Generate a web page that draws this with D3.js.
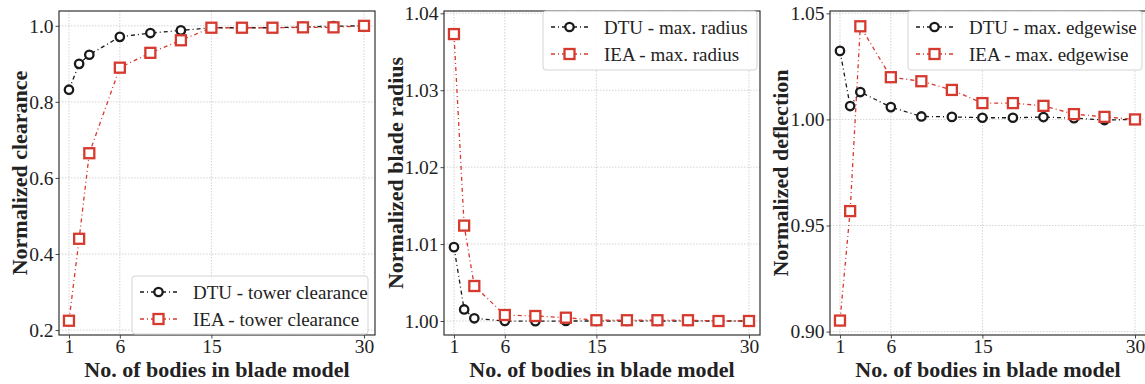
<!DOCTYPE html>
<html>
<head>
<meta charset="utf-8">
<script src="https://cdn.jsdelivr.net/npm/d3@7"></script>
<style>
  body { margin: 0; background: #fff; }
  svg { display: block; }
  text { font-family: "Liberation Serif", "DejaVu Serif", serif; fill: #222; }
</style>
</head>
<body>
<svg id="chart" width="1145" height="384"></svg>
<script>
  // bodies used in the blade model
  var bodies = [1, 2, 3, 6, 9, 12, 15, 18, 21, 24, 27, 30];
  var xTicks = [1, 6, 15, 30];

  // normalized tower clearance
  var dtuClearance = [0.832, 0.900, 0.924, 0.971, 0.981, 0.988, 0.995, 0.995, 0.995, 0.997, 0.999, 1.000];
  var ieaClearance = [0.2245, 0.440, 0.665, 0.890, 0.929, 0.962, 0.995, 0.995, 0.995, 0.996, 0.996, 1.000];
  var clearanceTicks = [0.2, 0.4, 0.6, 0.8, 1.0];

  // normalized max blade radius
  var dtuRadius = [1.0096, 1.0015, 1.00035, 1.0000, 0.99998, 1.0000, 1.0000, 1.0000, 1.0000, 1.0000, 1.0000, 1.0000];
  var ieaRadius = [1.0373, 1.0124, 1.00455, 1.00078, 1.00065, 1.00043, 1.0001, 1.0001, 1.0001, 1.0001, 1.0000, 1.0000];
  var radiusTicks = [1.00, 1.01, 1.02, 1.03, 1.04];

  // normalized max edgewise deflection
  var dtuEdge = [1.0323, 1.0063, 1.0129, 1.0058, 1.0014, 1.0012, 1.0008, 1.0008, 1.0011, 1.0006, 0.9997, 1.0000];
  var ieaEdge = [0.9052, 0.9568, 1.0439, 1.0199, 1.0180, 1.0139, 1.0077, 1.0077, 1.0064, 1.0025, 1.0012, 1.0000];
  var edgeTicks = [0.90, 0.95, 1.00, 1.05];

  var dtuColor = '#1a1a1a';
  var ieaColor = '#d63a2f';

  var svg = d3.select('#chart');

  var panels = [
    {
      left: 59, right: 375, yDomain: [0.187, 1.039], yTicks: clearanceTicks, fmt: d3.format('.1f'),
      yLabel: 'Normalized clearance', labelX: 19,
      dtu: dtuClearance, iea: ieaClearance,
      names: ['DTU - tower clearance', 'IEA - tower clearance'],
      legend: { x: 132, y: 276, w: 236, h: 58 }
    },
    {
      left: 444, right: 760, yDomain: [0.99818, 1.0403], yTicks: radiusTicks, fmt: d3.format('.2f'),
      yLabel: 'Normalized blade radius', labelX: 395,
      dtu: dtuRadius, iea: ieaRadius,
      names: ['DTU - max. radius', 'IEA - max. radius'],
      legend: { x: 543, y: 11, w: 214, h: 59 }
    },
    {
      left: 830, right: 1146, yDomain: [0.8984, 1.0511], yTicks: edgeTicks, fmt: d3.format('.2f'),
      yLabel: 'Normalized deflection', labelX: 780,
      dtu: dtuEdge, iea: ieaEdge,
      names: ['DTU - max. edgewise', 'IEA - max. edgewise'],
      legend: { x: 908, y: 11, w: 234, h: 59 }
    }
  ];

  var plotTop = 11, plotBottom = 335;

  var drawMarker = function(sel, kind, color) {
    if (kind === 'circle') {
      sel.append('circle')
        .attr('r', 4.2)
        .attr('fill', '#fff')
        .attr('stroke', color)
        .attr('stroke-width', 2.3);
    } else {
      sel.append('rect')
        .attr('x', -5).attr('y', -5)
        .attr('width', 10).attr('height', 10)
        .attr('fill', '#fff')
        .attr('stroke', color)
        .attr('stroke-width', 2.3);
    }
  };

  panels.forEach(function(p) {
    var x = d3.scaleLinear().domain([0.02, 31.08]).range([p.left, p.right]);
    var y = d3.scaleLinear().domain(p.yDomain).range([plotBottom, plotTop]);
    var g = svg.append('g');

    // grid
    g.selectAll('line.gx').data(xTicks).enter().append('line')
      .attr('x1', function(d) { return x(d); }).attr('x2', function(d) { return x(d); })
      .attr('y1', plotTop).attr('y2', plotBottom)
      .attr('stroke', '#c8c8c8').attr('stroke-width', 0.8).attr('stroke-dasharray', '1.5,1.5');
    g.selectAll('line.gy').data(p.yTicks).enter().append('line')
      .attr('y1', function(d) { return y(d); }).attr('y2', function(d) { return y(d); })
      .attr('x1', p.left).attr('x2', p.right)
      .attr('stroke', '#c8c8c8').attr('stroke-width', 0.8).attr('stroke-dasharray', '1.5,1.5');

    // axes
    var xAxis = d3.axisBottom(x).tickValues(xTicks).tickSize(3.5).tickPadding(1);
    var yAxis = d3.axisLeft(y).tickValues(p.yTicks).tickSize(3.5).tickPadding(2).tickFormat(p.fmt);
    var gx = g.append('g').attr('transform', 'translate(0,' + plotBottom + ')').call(xAxis);
    var gy = g.append('g').attr('transform', 'translate(' + p.left + ',0)').call(yAxis);
    [gx, gy].forEach(function(a) {
      a.select('.domain').remove();
      a.selectAll('line').attr('stroke', '#333').attr('stroke-width', 0.9);
      a.selectAll('text').attr('font-size', 19.5).attr('fill', '#2a2a2a')
        .style('font-family', '"Liberation Serif", serif');
    });

    // series
    var series = [
      { vals: p.dtu, color: dtuColor, kind: 'circle' },
      { vals: p.iea, color: ieaColor, kind: 'square' }
    ];
    var line = d3.line()
      .x(function(d) { return x(d[0]); })
      .y(function(d) { return y(d[1]); });

    series.forEach(function(s) {
      var pts = d3.zip(bodies, s.vals);
      g.append('path')
        .attr('d', line(pts))
        .attr('fill', 'none')
        .attr('stroke', s.color)
        .attr('stroke-width', 1.3)
        .attr('stroke-dasharray', '4,3,1,3');
    });
    series.forEach(function(s) {
      var pts = d3.zip(bodies, s.vals);
      g.selectAll(null).data(pts).enter().append('g')
        .attr('transform', function(d) { return 'translate(' + x(d[0]) + ',' + y(d[1]) + ')'; })
        .each(function() { drawMarker(d3.select(this), s.kind, s.color); });
    });

    // frame
    g.append('rect')
      .attr('x', p.left).attr('y', plotTop)
      .attr('width', p.right - p.left).attr('height', plotBottom - plotTop)
      .attr('fill', 'none').attr('stroke', '#333').attr('stroke-width', 1.2);

    // legend
    var L = p.legend;
    var lg = g.append('g').attr('transform', 'translate(' + L.x + ',' + L.y + ')');
    lg.append('rect')
      .attr('width', L.w).attr('height', L.h).attr('rx', 3)
      .attr('fill', '#fff').attr('fill-opacity', 0.85)
      .attr('stroke', '#d4d4d4').attr('stroke-width', 1);
    series.forEach(function(s, i) {
      var row = lg.append('g').attr('transform', 'translate(0,' + (16 + i * 27) + ')');
      row.append('line')
        .attr('x1', 8).attr('x2', 45)
        .attr('stroke', s.color).attr('stroke-width', 1.3)
        .attr('stroke-dasharray', '4,3,1,3');
      drawMarker(row.append('g').attr('transform', 'translate(26.5,0)'), s.kind, s.color);
      row.append('text')
        .attr('x', 61).attr('dy', '0.35em')
        .attr('font-size', 19)
        .text(p.names[i]);
    });

    // axis labels
    g.append('text')
      .attr('x', (p.left + p.right) / 2).attr('y', 377)
      .attr('text-anchor', 'middle')
      .attr('font-size', 22).attr('font-weight', 'bold')
      .text('No. of bodies in blade model');
    g.append('text')
      .attr('transform', 'translate(' + p.labelX + ',' + ((plotTop + plotBottom) / 2) + ') rotate(-90)')
      .attr('text-anchor', 'middle').attr('dy', '0.35em')
      .attr('font-size', 22).attr('font-weight', 'bold')
      .text(p.yLabel);
  });
</script>
</body>
</html>
